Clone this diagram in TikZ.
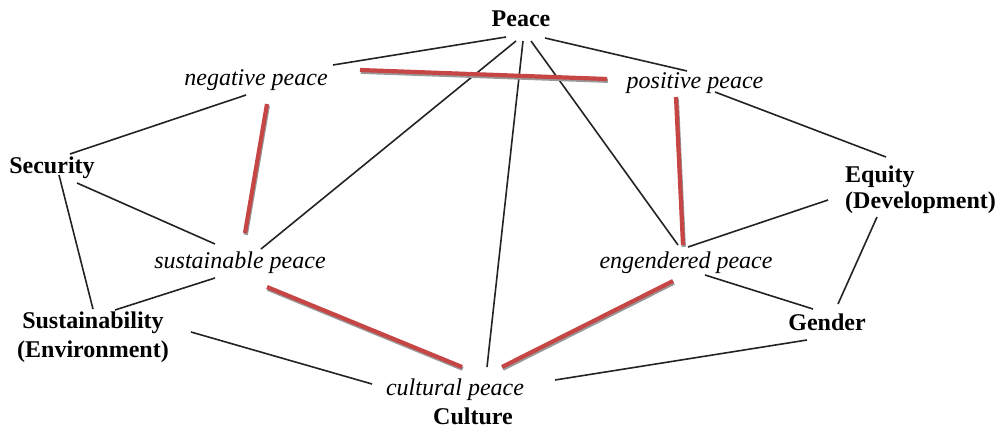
\documentclass[tikz,border=0pt]{standalone}
\usepackage{fontspec}
\setmainfont{Liberation Serif}
\definecolor{peacered}{RGB}{198,70,70}
\definecolor{linegray}{RGB}{35,35,35}
\newcommand\redjoin[2]{%
  \draw[redshadow] #1 -- #2;
  \draw[redline] #1 -- #2;}
\begin{document}
\begin{tikzpicture}[x=1pt,y=-1pt,
  key/.style={inner sep=0pt, anchor=base, font=\fontsize{24}{26}\selectfont\bfseries},
  kind/.style={inner sep=0pt, anchor=base, font=\fontsize{24}{26}\selectfont\itshape},
  link/.style={draw=linegray, line width=1.6pt},
  redline/.style={draw=peacered, line width=4.2pt},
  redshadow/.style={draw=black!40, line width=4.2pt, transform canvas={shift={(0.8pt,-1.8pt)}}}]
\useasboundingbox (0,0) rectangle (995,428);

% concepts (two-line labels are placed by the baseline of their last line)
\node[key] (peace) at (521,27) {Peace};
\node[key] (sec) at (52,173) {Security};
\node[key, anchor=base west, align=left, font=\fontsize{24}{26}\selectfont\bfseries] (equ) at (845,208) {Equity\\(Development)};
\node[key, align=center, font=\fontsize{24}{29}\selectfont\bfseries] (sust) at (93,357) {Sustainability\\(Environment)};
\node[key] (gen) at (827,330) {Gender};
\node[key] (cult) at (473,424) {Culture};

% kinds of peace
\node[kind] (neg) at (256,85) {negative peace};
\node[kind] (pos) at (695,88) {positive peace};
\node[kind] (sus) at (240,268) {sustainable peace};
\node[kind] (eng) at (686,268) {engendered peace};
\node[kind] (cul) at (455,395) {cultural peace};

% thin links
\draw[link] ([shift={(-15,10)}]peace.base) -- ([shift={(77,-20)}]neg.base);
\draw[link] ([shift={(-5,14)}]peace.base) -- ([shift={(21,-19)}]sus.base);
\draw[link] ([shift={(2,14)}]peace.base) -- ([shift={(32,-28)}]cul.base);
\draw[link] ([shift={(10,14)}]peace.base) -- ([shift={(-8,-23)}]eng.base);
\draw[link] ([shift={(24,11)}]peace.base) -- ([shift={(-8,-17)}]pos.base);
\draw[link] ([shift={(-10,10)}]neg.base) -- ([shift={(18,-19)}]sec.base);
\draw[link] ([shift={(25,10)}]sec.base) -- ([shift={(-25,-24)}]sus.base);
\draw[link] ([shift={(7,2)}]sec.base) -- ([shift={(0,-48)}]sust.base);
\draw[link] ([shift={(-25,10)}]sus.base) -- ([shift={(22,-47)}]sust.base);
\draw[link] ([shift={(98,-25)}]sust.base) -- ([shift={(-83,-11)}]cul.base);
\draw[link] ([shift={(20,4)}]pos.base) -- ([shift={(41,-51)}]equ.base west);
\draw[link] ([shift={(2,-21)}]eng.base) -- ([shift={(-17,-8)}]equ.base west);
\draw[link] ([shift={(19,7)}]eng.base) -- ([shift={(-14,-21)}]gen.base);
\draw[link] ([shift={(32,9)}]equ.base west) -- ([shift={(11,-26)}]gen.base);
\draw[link] ([shift={(-20,10)}]gen.base) -- ([shift={(100,-15)}]cul.base);

% thick links
\redjoin{([shift={(104,-15)}]neg.base)}{([shift={(-88,-9)}]pos.base)}
\redjoin{([shift={(11,19)}]neg.base)}{([shift={(5,-35)}]sus.base)}
\redjoin{([shift={(-19,9)}]pos.base)}{([shift={(-3,-23)}]eng.base)}
\redjoin{([shift={(27,19)}]sus.base)}{([shift={(7,-28)}]cul.base)}
\redjoin{([shift={(-13,13)}]eng.base)}{([shift={(47,-28)}]cul.base)}
\end{tikzpicture}
\end{document}
